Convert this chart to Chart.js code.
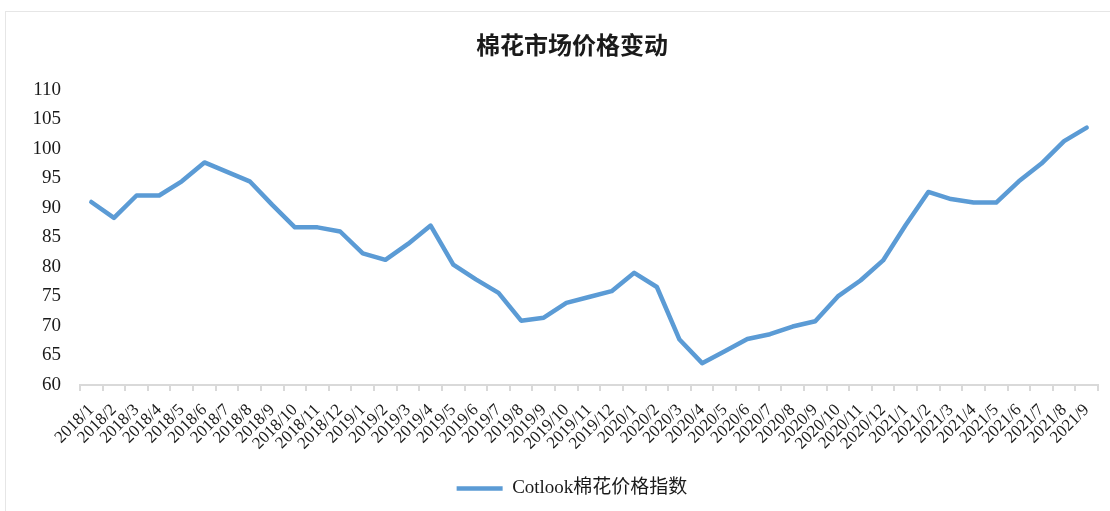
<!DOCTYPE html>
<html>
<head>
<meta charset="utf-8">
<title>棉花市场价格变动</title>
<style>
	body { margin: 0; background: #fff; overflow: hidden; }
	#frame { position: absolute; left: 5px; top: 11px; width: 1134px; height: 520px; border: 1px solid #e6e6e6; }
	#chart { position: absolute; left: 0; top: 0; }
</style>
</head>
<body>
	<div id="frame"></div>
	<!-- the original frame runs past the right edge, so the canvas does too -->
	<canvas id="chart" width="1144" height="511"></canvas>

	<script src="https://cdn.jsdelivr.net/npm/chart.js@4/dist/chart.umd.min.js"></script>
	<script>
		// months on the x axis
		var months = [
			'2018/1','2018/2','2018/3','2018/4','2018/5','2018/6','2018/7','2018/8','2018/9','2018/10','2018/11','2018/12',
			'2019/1','2019/2','2019/3','2019/4','2019/5','2019/6','2019/7','2019/8','2019/9','2019/10','2019/11','2019/12',
			'2020/1','2020/2','2020/3','2020/4','2020/5','2020/6','2020/7','2020/8','2020/9','2020/10','2020/11','2020/12',
			'2021/1','2021/2','2021/3','2021/4','2021/5','2021/6','2021/7','2021/8','2021/9'
		];

		// Cotlook index
		var cotlookIndex = [
			91.0, 88.3, 92.1, 92.1, 94.5, 97.7, 96.1, 94.5, 90.5, 86.7, 86.7, 86.0,
			82.3, 81.2, 83.9, 87.0, 80.4, 77.9, 75.6, 70.9, 71.4, 73.9, 74.9, 75.9,
			79.0, 76.6, 67.7, 63.7, 65.7, 67.8, 68.6, 69.9, 70.8, 75.0, 77.7, 81.1,
			87.1, 92.7, 91.5, 90.9, 90.9, 94.5, 97.5, 101.3, 103.6
		];

		var seriesName = 'Cotlook棉花价格指数';
		var chartTitle = '棉花市场价格变动';
		var yMin = 60, yMax = 110, yStep = 5;

		var serif = "'Liberation Serif', 'Noto Sans CJK SC', serif";
		var blue = '#5b9bd5';

		new Chart('chart', {
			type: 'line',
			data: {
				labels: months,
				datasets: [{
					label: seriesName,
					data: cotlookIndex,
					borderColor: blue,
					backgroundColor: blue,
					borderWidth: 4.5,
					pointRadius: 0,
					pointStyle: 'line',
					tension: 0,
					borderJoinStyle: 'round',
					borderCapStyle: 'round'
				}]
			},
			options: {
				responsive: false,
				animation: false,
				layout: { padding: { left: 0, right: 0, top: 0, bottom: 3 } },
				plugins: {
					tooltip: { enabled: false },
					title: {
						display: true,
						text: chartTitle,
						color: '#1a1a1a',
						font: { family: "'Noto Sans CJK SC'", size: 24, weight: 'bold' },
						padding: { top: 30, bottom: 31 }
					},
					legend: {
						position: 'bottom',
						labels: {
							color: '#1a1a1a',
							font: { family: serif, size: 19 },
							usePointStyle: true,
							pointStyle: 'line',
							pointStyleWidth: 46,
							boxHeight: 5,
							padding: 10
						}
					}
				},
				scales: {
					x: {
						offset: true,
						border: { display: true, color: '#d9d9d9', width: 2 },
						grid: { display: true, offset: true, drawOnChartArea: false, drawTicks: true, tickLength: 6, color: '#d9d9d9', lineWidth: 2 },
						ticks: {
							autoSkip: false,
							minRotation: 45,
							maxRotation: 45,
							padding: 9,
							color: '#1a1a1a',
							font: { family: serif, size: 17 }
						},
						afterFit: function (scale) { scale.height = 84; }
					},
					y: {
						min: yMin,
						max: yMax,
						border: { display: false },
						grid: { display: false, drawTicks: false },
						ticks: {
							stepSize: yStep,
							padding: 19,
							color: '#1a1a1a',
							font: { family: serif, size: 19 }
						},
						afterFit: function (scale) { scale.width = 80; }
					},
					// empty right-hand strip so the plot ends where the frame's centre asks
					spacer: {
						type: 'linear',
						position: 'right',
						border: { display: false },
						grid: { display: false, drawTicks: false },
						ticks: { display: false },
						afterFit: function (scale) { scale.width = 46; }
					}
				}
			}
		});
	</script>
</body>
</html>
